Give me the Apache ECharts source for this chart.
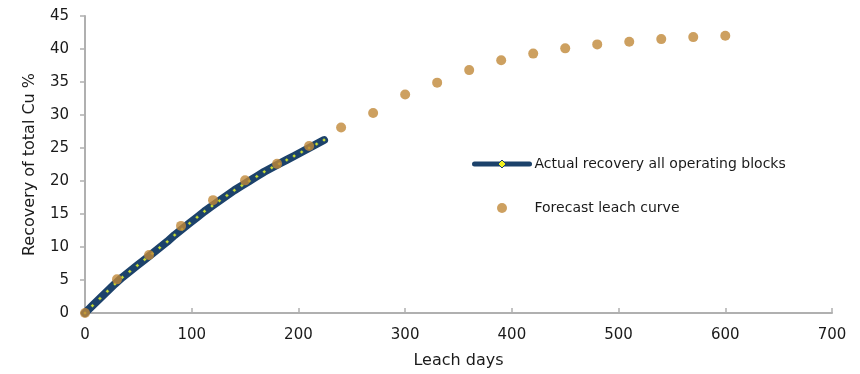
<!DOCTYPE html>
<html>
<head>
<meta charset="utf-8">
<script src="https://cdn.jsdelivr.net/npm/echarts@6/dist/echarts.min.js"></script>
<style>html,body{margin:0;padding:0;background:#fff}#c{width:860px;height:374px}</style>
</head>
<body>
<div id="c"></div>
<script>
var actualDays = [0,7,14,21,28,35,42,49,56,63,70,77,84,91,98,105,112,119,126,133,140,147,154,161,168,175,182,189,196,203,210,217,224];
var actualValues = [0,1.1,2.2,3.3,4.4,5.4,6.3,7.2,8.1,9.0,9.9,10.8,11.8,12.7,13.6,14.5,15.4,16.2,17.0,17.8,18.6,19.3,20.0,20.7,21.4,22.0,22.6,23.2,23.8,24.4,25.0,25.6,26.2];
var forecastDays = [0,30,60,90,120,150,180,210,240,270,300,330,360,390,420,450,480,510,540,570,600];
var forecastValues = [0,5.1,8.8,13.2,17.1,20.1,22.6,25.3,28.1,30.3,33.1,34.9,36.8,38.3,39.3,40.1,40.7,41.1,41.5,41.8,42.0];
var seriesNames = ['Actual recovery all operating blocks','Forecast leach curve'];
var xAxisTitle = 'Leach days';
var yAxisTitle = 'Recovery of total Cu %';

function pairs(xs, ys){ return xs.map(function(x,i){ return [x, ys[i]]; }); }

var font = 'DejaVu Sans';
var txt = '#1a1a1a';
var axisCol = '#b0b0b0';
var chart = echarts.init(document.getElementById('c'), null, {renderer:'canvas'});
chart.setOption({
  animation:false,
  textStyle:{fontFamily:font},
  grid:{left:85, right:28, top:16, bottom:58, containLabel:false},
  legend:{
    orient:'vertical', left:472, top:157, padding:0, itemWidth:55, itemHeight:10, itemGap:30,
    textStyle:{fontFamily:font, fontSize:14, color:txt},
    data:[
      {name:seriesNames[0], lineStyle:{width:5, cap:'round', color:'#1c426b'}, itemStyle:{color:'#f0f020', borderColor:'#1c426b', borderWidth:1}},
      {name:seriesNames[1]}
    ]
  },
  xAxis:{
    type:'value', min:0, max:700, interval:100,
    name:xAxisTitle, nameLocation:'middle', nameGap:40,
    nameTextStyle:{fontFamily:font, fontSize:16, color:txt},
    axisLine:{lineStyle:{color:axisCol, width:2}},
    axisTick:{show:true, inside:true, length:5, lineStyle:{color:axisCol, width:1.5}},
    axisLabel:{fontFamily:font, fontSize:15, color:txt, margin:15},
    splitLine:{show:false}
  },
  yAxis:{
    type:'value', min:0, max:45, interval:5,
    name:yAxisTitle, nameLocation:'middle', nameGap:47, nameRotate:90,
    nameTextStyle:{fontFamily:font, fontSize:16, color:txt},
    axisLine:{show:true, lineStyle:{color:axisCol, width:2}},
    axisTick:{show:true, inside:false, length:5, lineStyle:{color:axisCol, width:1.5}},
    axisLabel:{fontFamily:font, fontSize:15, color:txt, margin:16},
    splitLine:{show:false}
  },
  series:[
    {
      name:seriesNames[0], type:'line', data:pairs(actualDays, actualValues),
      lineStyle:{color:'#1c426b', width:8, cap:'round', join:'round'},
      itemStyle:{color:'#c8dc30', borderColor:'#1c426b', borderWidth:0.5},
      symbol:'diamond', symbolSize:4, showSymbol:true, z:2
    },
    {
      name:seriesNames[1], type:'scatter', data:pairs(forecastDays, forecastValues),
      symbol:'circle', symbolSize:10,
      itemStyle:{color:'#c08838'}, z:3
    }
  ]
});
</script>
</body>
</html>
